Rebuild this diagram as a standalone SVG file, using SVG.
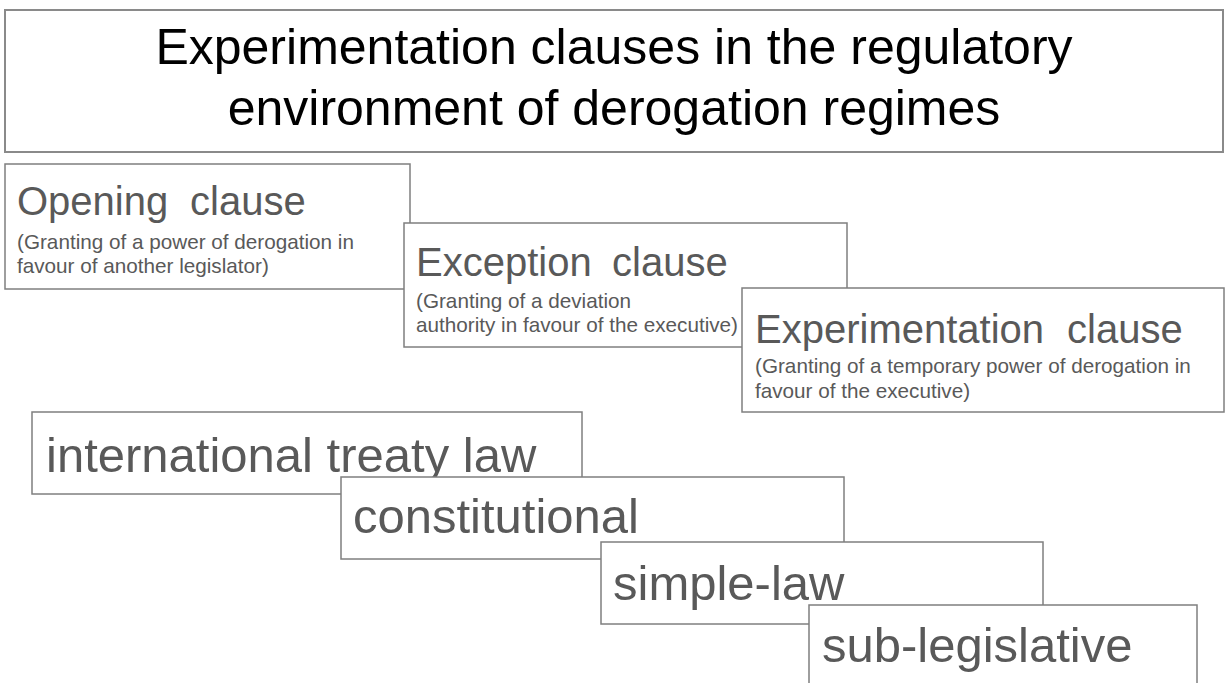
<svg xmlns="http://www.w3.org/2000/svg" width="1225" height="683" viewBox="0 0 1225 683">
<style>
.box{fill:#fff;stroke:#7f7f7f;stroke-width:1.5}
.tbox{fill:#fff;stroke:#8a8a8a;stroke-width:2}
.title{font-family:"Liberation Sans",Arial,sans-serif;font-size:50px;fill:#000;text-anchor:middle}
.head{font-family:"Liberation Sans",Arial,sans-serif;font-size:40px;fill:#595959}
.sub{font-family:"Liberation Sans",Arial,sans-serif;font-size:20.7px;fill:#595959}
.lvl{font-family:"Liberation Sans",Arial,sans-serif;font-size:49px;fill:#595959}
</style>
<rect width="1225" height="683" fill="#fff"/>
<g id="title">
<rect class="tbox" x="5" y="10" width="1218" height="142"/>
<text class="title" x="614" y="64">Experimentation clauses in the regulatory</text>
<text class="title" x="614" y="125">environment of derogation regimes</text>
</g>
<g id="opening">
<rect class="box" x="5" y="164" width="405" height="125"/>
<text class="head" y="215"><tspan x="17">Opening</tspan> <tspan x="190">clause</tspan></text>
<text class="sub" x="17" y="249">(Granting of a power of derogation in</text>
<text class="sub" x="17" y="273">favour of another legislator)</text>
</g>
<g id="exception">
<rect class="box" x="404" y="223" width="443" height="124"/>
<text class="head" y="276"><tspan x="416">Exception</tspan> <tspan x="612">clause</tspan></text>
<text class="sub" x="416" y="308">(Granting of a deviation</text>
<text class="sub" x="416" y="332">authority in favour of the executive)</text>
</g>
<g id="experimentation">
<rect class="box" x="742" y="288" width="482" height="124"/>
<text class="head" y="343"><tspan x="755">Experimentation</tspan> <tspan x="1067">clause</tspan></text>
<text class="sub" x="755" y="373">(Granting of a temporary power of derogation in</text>
<text class="sub" x="755" y="398">favour of the executive)</text>
</g>
<g id="international">
<rect class="box" x="32" y="412" width="550" height="82"/>
<text class="lvl" x="46" y="472">international treaty law</text>
</g>
<g id="constitutional">
<rect class="box" x="341" y="477" width="503" height="82"/>
<text class="lvl" x="353" y="533">constitutional</text>
</g>
<g id="simple-law">
<rect class="box" x="601" y="542" width="442" height="82"/>
<text class="lvl" x="613" y="600">simple-law</text>
</g>
<g id="sub-legislative">
<rect class="box" x="809" y="605" width="388" height="90"/>
<text class="lvl" x="822" y="662">sub-legislative</text>
</g>
<g id="connectors"/>
</svg>
